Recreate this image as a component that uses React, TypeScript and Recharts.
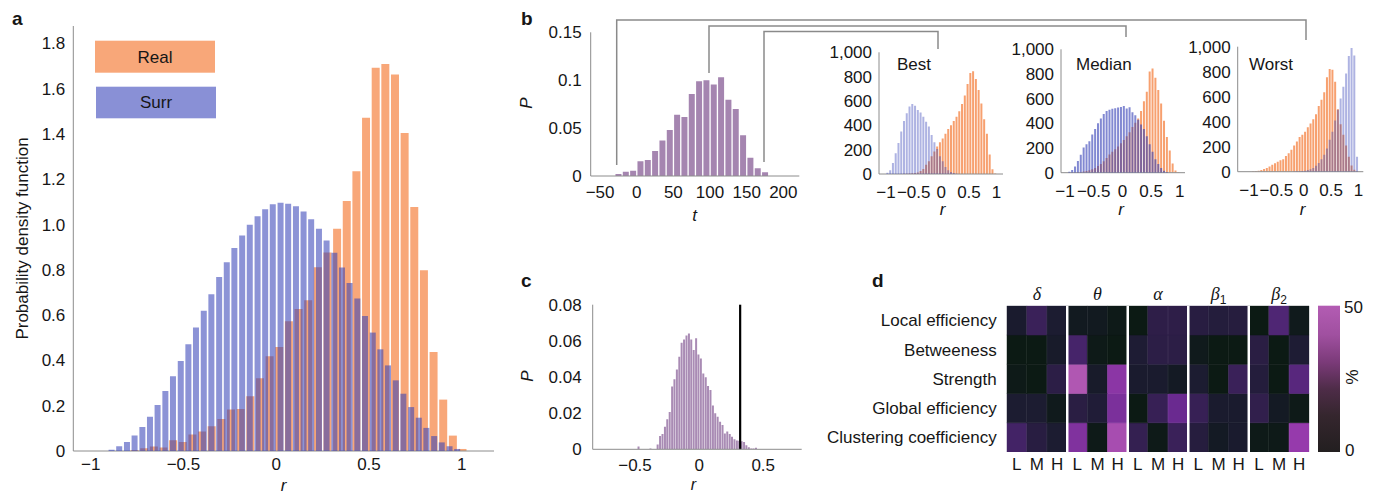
import React from "react";
import { BarChart, Bar, XAxis, YAxis, Cell, ReferenceLine } from "recharts";

const FONT = "'Liberation Sans', Arial, Helvetica, sans-serif";
const SERIF = "'Liberation Serif', 'Times New Roman', serif";
const AXIS = "#8c8c8c";
const INK = "#161616";
const TICK = { fill: INK, fontSize: 17, fontFamily: FONT };

// ---- panel a: pooled correlation histograms ----
const realBins = [
  -0.763, -0.711, -0.659, -0.607, -0.555, -0.503, -0.451, -0.399, -0.347, -0.295, -0.243, -0.191,
  -0.139, -0.087, -0.035, 0.017, 0.069, 0.121, 0.173, 0.225, 0.277, 0.329, 0.381, 0.433, 0.485,
  0.537, 0.589, 0.641, 0.693, 0.745, 0.797, 0.849, 0.901, 0.953, 1.005,
];
const realDensity = [
  0.004, 0.012, 0.02, 0.015, 0.047, 0.04, 0.073, 0.086, 0.109, 0.141, 0.183, 0.185, 0.242, 0.321,
  0.419, 0.459, 0.573, 0.627, 0.666, 0.812, 0.877, 0.982, 1.104, 1.235, 1.472, 1.693, 1.709, 1.663,
  1.404, 1.078, 0.798, 0.437, 0.227, 0.068, 0.009,
];
const surrBins = [
  -0.887, -0.846, -0.804, -0.763, -0.721, -0.68, -0.639, -0.597, -0.556, -0.514, -0.473, -0.432,
  -0.39, -0.349, -0.307, -0.266, -0.225, -0.183, -0.142, -0.1, -0.059, -0.018, 0.024, 0.065, 0.107,
  0.148, 0.189, 0.231, 0.272, 0.314, 0.355, 0.396, 0.438, 0.479, 0.521, 0.562, 0.603, 0.645, 0.686,
  0.728, 0.769, 0.81, 0.852, 0.893, 0.935, 0.976,
];
const surrDensity = [
  0.006, 0.021, 0.04, 0.069, 0.106, 0.151, 0.203, 0.265, 0.33, 0.398, 0.471, 0.545, 0.619, 0.692,
  0.768, 0.834, 0.897, 0.952, 0.999, 1.037, 1.068, 1.09, 1.096, 1.092, 1.081, 1.058, 1.023, 0.982,
  0.93, 0.876, 0.81, 0.742, 0.673, 0.596, 0.523, 0.449, 0.378, 0.312, 0.253, 0.194, 0.147, 0.102,
  0.066, 0.038, 0.021, 0.009,
];

// ---- panel b: t statistic + example subjects ----
const tBins = [-25, -15, -5, 5, 15, 25, 35, 45, 55, 65, 75, 85, 95, 105, 115, 125, 135, 145, 155, 165, 175];
const tProb = [
  0.002, 0.0045, 0.0056, 0.0153, 0.0167, 0.026, 0.037, 0.048, 0.064, 0.0616, 0.0856, 0.0988,
  0.0999, 0.0954, 0.103, 0.0797, 0.07, 0.0425, 0.019, 0.008, 0.004,
];
const smallBins = [
  -0.975, -0.925, -0.875, -0.825, -0.775, -0.725, -0.675, -0.625, -0.575, -0.525, -0.475, -0.425,
  -0.375, -0.325, -0.275, -0.225, -0.175, -0.125, -0.075, -0.025, 0.025, 0.075, 0.125, 0.175, 0.225,
  0.275, 0.325, 0.375, 0.425, 0.475, 0.525, 0.575, 0.625, 0.675, 0.725, 0.775, 0.825, 0.875, 0.925,
  0.975,
];
const bestReal = [
  0, 0, 0, 0, 0, 1, 2, 3, 4, 6, 8, 12, 25, 42, 75, 105, 145, 185, 225, 260, 292, 330, 370, 400, 435,
  470, 515, 575, 645, 740, 830, 845, 780, 690, 580, 450, 330, 160, 40, 5,
];
const bestSurr = [
  10, 30, 90, 170, 255, 350, 435, 500, 555, 575, 560, 525, 505, 470, 430, 390, 320, 260, 205, 145,
  105, 58, 30, 17, 8, 3, 0, 0, 0, 0, 0, 0, 0, 0, 0, 0, 0, 0, 0, 0,
];
const medianReal = [
  0, 0, 0, 0, 3, 6, 10, 14, 20, 28, 38, 55, 70, 92, 120, 148, 170, 190, 212, 238, 265, 295, 328,
  370, 405, 440, 500, 580, 655, 820, 845, 770, 670, 560, 420, 290, 180, 75, 18, 4,
];
const medianSurr = [
  0, 8, 22, 50, 95, 145, 205, 230, 255, 310, 355, 400, 440, 475, 500, 510, 518, 522, 528, 533, 540,
  520, 530, 490, 465, 430, 390, 355, 295, 230, 170, 110, 70, 38, 15, 5, 0, 0, 0, 0,
];
const worstReal = [
  0, 3, 5, 8, 14, 22, 30, 42, 55, 68, 80, 92, 100, 125, 148, 175, 210, 242, 278, 295, 320, 355, 385,
  420, 460, 525, 575, 635, 755, 822, 815, 720, 500, 380, 295, 210, 120, 50, 15, 3,
];
const worstSurr = [
  0, 0, 0, 0, 0, 0, 0, 0, 0, 0, 0, 0, 0, 0, 0, 0, 2, 3, 4, 5, 8, 13, 20, 30, 47, 70, 100, 135, 185,
  255, 320, 410, 495, 585, 680, 785, 925, 990, 930, 120,
];

// ---- panel c: permutation distribution ----
const cBins = [
  -0.474, -0.455, -0.437, -0.418, -0.399, -0.381, -0.362, -0.343, -0.325, -0.306, -0.287, -0.268,
  -0.25, -0.231, -0.212, -0.194, -0.175, -0.156, -0.138, -0.119, -0.1, -0.081, -0.063, -0.044,
  -0.025, -0.007, 0.012, 0.031, 0.05, 0.068, 0.087, 0.106, 0.124, 0.143, 0.162, 0.181, 0.199, 0.218,
  0.237, 0.255, 0.274, 0.293, 0.311, 0.33, 0.349, 0.367, 0.386, 0.405, 0.423, 0.442,
];
const cProb = [
  0.0015, 0, 0, 0, 0, 0.0004, 0, 0, 0.0026, 0.0074, 0.0085, 0.0125, 0.0166, 0.0206, 0.0347, 0.0387,
  0.0442, 0.0512, 0.059, 0.0608, 0.0629, 0.0641, 0.0608, 0.0549, 0.0614, 0.0525, 0.0503, 0.042,
  0.0398, 0.035, 0.0328, 0.0243, 0.0199, 0.018, 0.0153, 0.0135, 0.0088, 0.0098, 0.0085, 0.007,
  0.0055, 0.0048, 0.0047, 0.0044, 0.004, 0.0022, 0.0011, 0.0004, 0.0005, 0.0009,
];
const cObserved = 0.32;

// ---- panel d: percentage heatmap ----
const measures = ["Local efficiency", "Betweeness", "Strength", "Global efficiency", "Clustering coefficiency"];
const bandNames: [string, string][] = [["δ", ""], ["θ", ""], ["α", ""], ["β", "1"], ["β", "2"]];
const levels = ["L", "M", "H"];
const localEff = [8, 22, 9, 4, 4, 2, 1, 18, 18, 15, 13, 14, 1, 28, 3];
const betweeness = [1, 1, 7, 26, 2, 1, 10, 17, 17, 3, 1, 1, 16, 1, 10];
const strength = [2, 1, 17, 48, 7, 40, 8, 8, 5, 9, 1, 22, 13, 1, 30];
const globalEff = [9, 9, 3, 16, 11, 37, 1, 21, 34, 21, 8, 8, 19, 5, 2];
const clustering = [25, 15, 9, 38, 2, 46, 20, 2, 22, 14, 5, 8, 2, 2, 42];
const heat = [localEff, betweeness, strength, globalEff, clustering];
const colPos = [0.5, 1.5, 2.5, 3.5, 4.5, 5.5, 6.5, 7.5, 8.5, 9.5, 10.5, 11.5, 12.5, 13.5, 14.5];
const bandPos = [1.5, 4.5, 7.5, 10.5, 13.5];
const groupEdges = [3, 6, 9, 12];
const rowPos = [0.5, 1.5, 2.5, 3.5, 4.5];

const stops: [number, number[]][] = [
  [0, [10, 26, 16]],
  [5, [20, 26, 36]],
  [10, [30, 28, 52]],
  [18, [46, 30, 72]],
  [26, [70, 36, 106]],
  [34, [106, 42, 144]],
  [42, [150, 58, 172]],
  [50, [184, 96, 180]],
];
function pctColor(p: number) {
  for (let i = 1; i < stops.length; i++) {
    const [p1, c1] = stops[i];
    const [p0, c0] = stops[i - 1];
    if (p <= p1) {
      const t = (p - p0) / (p1 - p0);
      const c = c0.map((v, j) => Math.round(v + (c1[j] - v) * t));
      return `rgb(${c[0]},${c[1]},${c[2]})`;
    }
  }
  return "rgb(184,96,180)";
}

const signed = (v: number) => (v < 0 ? "\u2212" + String(-v) : String(v));

type Rect = { x0: number; x1: number; y0: number; y1: number };
type Box = { left: number; top: number; width: number; height: number };
type Axes = { xTicks: number[]; yTicks: number[]; yFmt: (v: number) => string; xGap: number; yGap: number };

const YW = 50;
const XH = 30;

function Hist(props: {
  box: Box;
  plot: Rect;
  xDomain: [number, number];
  yDomain: [number, number];
  xs: number[];
  ys: number[];
  fill: string;
  opacity?: number;
  gap: string;
  axes?: Axes;
  children?: React.ReactNode;
}) {
  const { box, plot, xDomain, yDomain, xs, ys, fill, opacity = 1, gap, axes, children } = props;
  const data = xs.map((x, i) => ({ x, v: ys[i] }));
  const margin = {
    left: plot.x0 - box.left - (axes ? YW : 0),
    right: box.left + box.width - plot.x1,
    top: plot.y0 - box.top,
    bottom: box.top + box.height - plot.y1 - (axes ? XH : 0),
  };
  return (
    <div style={{ position: "absolute", left: box.left, top: box.top }}>
      <BarChart width={box.width} height={box.height} data={data} margin={margin} barCategoryGap={gap}>
        <XAxis
          type="number"
          dataKey="x"
          domain={xDomain}
          allowDataOverflow
          hide={!axes}
          height={XH}
          ticks={axes?.xTicks}
          interval={0}
          tickFormatter={signed}
          tick={TICK}
          tickLine={false}
          tickSize={0}
          tickMargin={axes?.xGap}
          stroke={AXIS}
        />
        <YAxis
          type="number"
          domain={yDomain}
          allowDataOverflow
          hide={!axes}
          width={YW}
          ticks={axes?.yTicks}
          interval={0}
          tickFormatter={axes?.yFmt}
          tick={TICK}
          tickLine={false}
          tickSize={0}
          tickMargin={axes?.yGap}
          stroke={AXIS}
        />
        <Bar dataKey="v" fill={fill} fillOpacity={opacity} isAnimationActive={false} />
        {children}
      </BarChart>
    </div>
  );
}

const BandTick = ({ x, y, payload }: any) => {
  const [sym, sub] = bandNames[bandPos.indexOf(payload.value)] || ["", ""];
  return (
    <text x={x} y={y} textAnchor="middle" fontFamily={SERIF} fontSize={18} fill={INK}>
      <tspan fontStyle="italic">{sym}</tspan>
      {sub && (
        <tspan fontSize={12} dy={4} fontFamily={FONT}>
          {sub}
        </tspan>
      )}
    </text>
  );
};

function Heatmap() {
  const data = colPos.map((x) => {
    const row: Record<string, number> = { x };
    heat.forEach((_, k) => (row[`m${k}`] = 1));
    return row;
  });
  const colLabels = bandNames.flatMap(() => levels);
  return (
    <div style={{ position: "absolute", left: 815, top: 270 }}>
      <BarChart
        width={505}
        height={226}
        data={data}
        margin={{ top: 5.7, right: 10.7, bottom: 14, left: 6.7 }}
        barCategoryGap={0}
      >
        <XAxis
          xAxisId="cols"
          type="number"
          dataKey="x"
          domain={[0, 15]}
          allowDataOverflow
          ticks={colPos}
          interval={0}
          tickFormatter={(v: number) => colLabels[Math.floor(v)]}
          axisLine={false}
          tickLine={false}
          tickSize={0}
          tickMargin={6}
          tick={TICK}
          height={30}
        />
        <XAxis
          xAxisId="bands"
          orientation="top"
          type="number"
          dataKey="x"
          domain={[0, 15]}
          allowDataOverflow
          ticks={bandPos}
          interval={0}
          tick={<BandTick />}
          axisLine={false}
          tickLine={false}
          tickSize={0}
          tickMargin={6}
          height={30}
        />
        <YAxis
          type="number"
          domain={[0, 5]}
          allowDataOverflow
          ticks={rowPos}
          interval={0}
          tickFormatter={(v: number) => measures[4 - Math.floor(v)]}
          axisLine={false}
          tickLine={false}
          tickSize={0}
          tickMargin={10}
          tick={TICK}
          width={185}
        />
        {[4, 3, 2, 1, 0].map((k) => (
          <Bar key={k} xAxisId="cols" dataKey={`m${k}`} stackId="h" isAnimationActive={false}>
            {heat[k].map((p, i) => {
              const c = pctColor(p);
              return <Cell key={i} fill={c} stroke={c} strokeWidth={0.6} />;
            })}
          </Bar>
        ))}
        {groupEdges.map((g) => (
          <ReferenceLine key={g} xAxisId="cols" x={g} stroke="#ffffff" strokeWidth={2.5} />
        ))}
      </BarChart>
    </div>
  );
}

const smallAxes: Axes = {
  xTicks: [-1, -0.5, 0, 0.5, 1],
  yTicks: [0, 200, 400, 600, 800, 1000],
  yFmt: (v) => v.toLocaleString("en-US"),
  xGap: 12,
  yGap: 7,
};

function SmallPanel(props: { box: Box; plot: Rect; xDomain: [number, number]; real: number[]; surr: number[]; alpha: number }) {
  const { box, plot, xDomain, real, surr, alpha } = props;
  return (
    <>
      <Hist box={box} plot={plot} xDomain={xDomain} yDomain={[0, 1000]} xs={smallBins} ys={real} fill="#f7a06f" gap="14%" axes={smallAxes} />
      <Hist box={box} plot={plot} xDomain={xDomain} yDomain={[0, 1000]} xs={smallBins} ys={surr} fill="#3541b7" opacity={alpha} gap="14%" />
    </>
  );
}

export default function App() {
  const boxA = { left: 0, top: 0, width: 500, height: 496 };
  const plotA = { x0: 73.3, x1: 494, y0: 26, y1: 451 };
  const axesA: Axes = {
    xTicks: [-1, -0.5, 0, 0.5, 1],
    yTicks: [0, 0.2, 0.4, 0.6, 0.8, 1, 1.2, 1.4, 1.6, 1.8],
    yFmt: (v) => (v === 0 ? "0" : v.toFixed(1)),
    xGap: 7,
    yGap: 8,
  };
  return (
    <div style={{ position: "absolute", left: 0, top: 0, width: 1379, height: 496, background: "#fff", overflow: "hidden", fontFamily: FONT }}>
      {/* a */}
      <Hist box={boxA} plot={plotA} xDomain={[-1.094, 1.174]} yDomain={[0, 1.877]} xs={realBins} ys={realDensity} fill="#f8a779" gap="7%" axes={axesA} />
      <Hist box={boxA} plot={plotA} xDomain={[-1.094, 1.174]} yDomain={[0, 1.877]} xs={surrBins} ys={surrDensity} fill="#3541b7" opacity={0.57} gap="9%" />

      {/* b */}
      <Hist
        box={{ left: 500, top: 0, width: 310, height: 230 }}
        plot={{ x0: 590.7, x1: 799.3, y0: 32.3, y1: 176 }}
        xDomain={[-62.8, 221.8]}
        yDomain={[0, 0.15]}
        xs={tBins}
        ys={tProb}
        fill="#a585b0"
        gap="10%"
        axes={{ xTicks: [-50, 0, 50, 100, 150, 200], yTicks: [0, 0.05, 0.1, 0.15], yFmt: (v) => String(v), xGap: 10, yGap: 9 }}
      />
      <SmallPanel box={{ left: 810, top: 0, width: 200, height: 230 }} plot={{ x0: 879, x1: 1003, y0: 52.3, y1: 174 }} xDomain={[-1.127, 1.116]} real={bestReal} surr={bestSurr} alpha={0.4} />
      <SmallPanel box={{ left: 1000, top: 0, width: 190, height: 230 }} plot={{ x0: 1061, x1: 1185, y0: 49.3, y1: 172.7 }} xDomain={[-1.07, 1.09]} real={medianReal} surr={medianSurr} alpha={0.62} />
      <SmallPanel box={{ left: 1185, top: 0, width: 194, height: 230 }} plot={{ x0: 1237.7, x1: 1363.3, y0: 46.7, y1: 171.7 }} xDomain={[-1.207, 1.09]} real={worstReal} surr={worstSurr} alpha={0.4} />

      {/* c */}
      <Hist
        box={{ left: 500, top: 270, width: 310, height: 226 }}
        plot={{ x0: 592.7, x1: 801.7, y0: 304.7, y1: 449.3 }}
        xDomain={[-0.83, 0.8]}
        yDomain={[0, 0.08]}
        xs={cBins}
        ys={cProb}
        fill="#a98bb4"
        gap="15%"
        axes={{ xTicks: [-0.5, 0, 0.5], yTicks: [0, 0.02, 0.04, 0.06, 0.08], yFmt: (v) => (v === 0 ? "0" : v.toFixed(2)), xGap: 10, yGap: 11 }}
      >
        <ReferenceLine x={cObserved} stroke="#000" strokeWidth={2.2} />
      </Hist>

      {/* d */}
      <Heatmap />

      <svg width={1379} height={496} style={{ position: "absolute", left: 0, top: 0, pointerEvents: "none" }} fontFamily={FONT} fill={INK}>
        <defs>
          <linearGradient id="cbar" x1="0" y1="1" x2="0" y2="0">
            <stop offset="0" stopColor="#231f20" />
            <stop offset="0.25" stopColor="#35262e" />
            <stop offset="0.43" stopColor="#4e2c48" />
            <stop offset="0.61" stopColor="#7a3a78" />
            <stop offset="0.8" stopColor="#a050a0" />
            <stop offset="1" stopColor="#b35cb3" />
          </linearGradient>
        </defs>
        {/* panel letters */}
        <text x={12} y={25} fontSize={19} fontWeight="bold">a</text>
        <text x={521} y={25} fontSize={19} fontWeight="bold">b</text>
        <text x={521} y={287} fontSize={19} fontWeight="bold">c</text>
        <text x={872} y={287} fontSize={19} fontWeight="bold">d</text>

        {/* a */}
        <text transform="rotate(-90)" x={-238.5} y={28} textAnchor="middle" fontSize={17}>Probability density function</text>
        <text x={283.5} y={491} textAnchor="middle" fontSize={17} fontStyle="italic">r</text>
        <rect x={95} y={40.7} width={120} height={32} fill="#f8a779" />
        <text x={155} y={62.7} textAnchor="middle" fontSize={17}>Real</text>
        <rect x={96} y={86.7} width={120} height={31.6} fill="#8990d6" />
        <text x={156} y={108.3} textAnchor="middle" fontSize={17}>Surr</text>

        {/* b */}
        <text transform="rotate(-90)" x={-103} y={532} textAnchor="middle" fontSize={17} fontStyle="italic">P</text>
        <text x={694.5} y={221} textAnchor="middle" fontSize={17} fontStyle="italic">t</text>
        <path d="M616.7 165 V20 H1306 V40" fill="none" stroke="#8a8a8a" strokeWidth={1.5} />
        <path d="M709 73 V26 H1126 V37" fill="none" stroke="#8a8a8a" strokeWidth={1.5} />
        <path d="M764 162 V31.5 H938 V49" fill="none" stroke="#8a8a8a" strokeWidth={1.5} />
        <text x={897} y={70} fontSize={17}>Best</text>
        <text x={1076} y={70} fontSize={17}>Median</text>
        <text x={1249} y={70} fontSize={17}>Worst</text>
        <text x={942.5} y={215} textAnchor="middle" fontSize={17} fontStyle="italic">r</text>
        <text x={1121} y={215} textAnchor="middle" fontSize={17} fontStyle="italic">r</text>
        <text x={1302.5} y={215} textAnchor="middle" fontSize={17} fontStyle="italic">r</text>

        {/* c */}
        <text transform="rotate(-90)" x={-376} y={533} textAnchor="middle" fontSize={17} fontStyle="italic">P</text>
        <text x={693.5} y={490} textAnchor="middle" fontSize={16} fontStyle="italic">r</text>

        {/* d colour bar */}
        <rect x={1318} y={305.7} width={22} height={146.3} fill="url(#cbar)" />
        <text x={1344} y={313.3} fontSize={17}>50</text>
        <text x={1345} y={456} fontSize={17}>0</text>
        <text transform="rotate(90 1351 377)" x={1351} y={377} textAnchor="middle" dominantBaseline="central" fontSize={17}>%</text>
      </svg>
    </div>
  );
}
